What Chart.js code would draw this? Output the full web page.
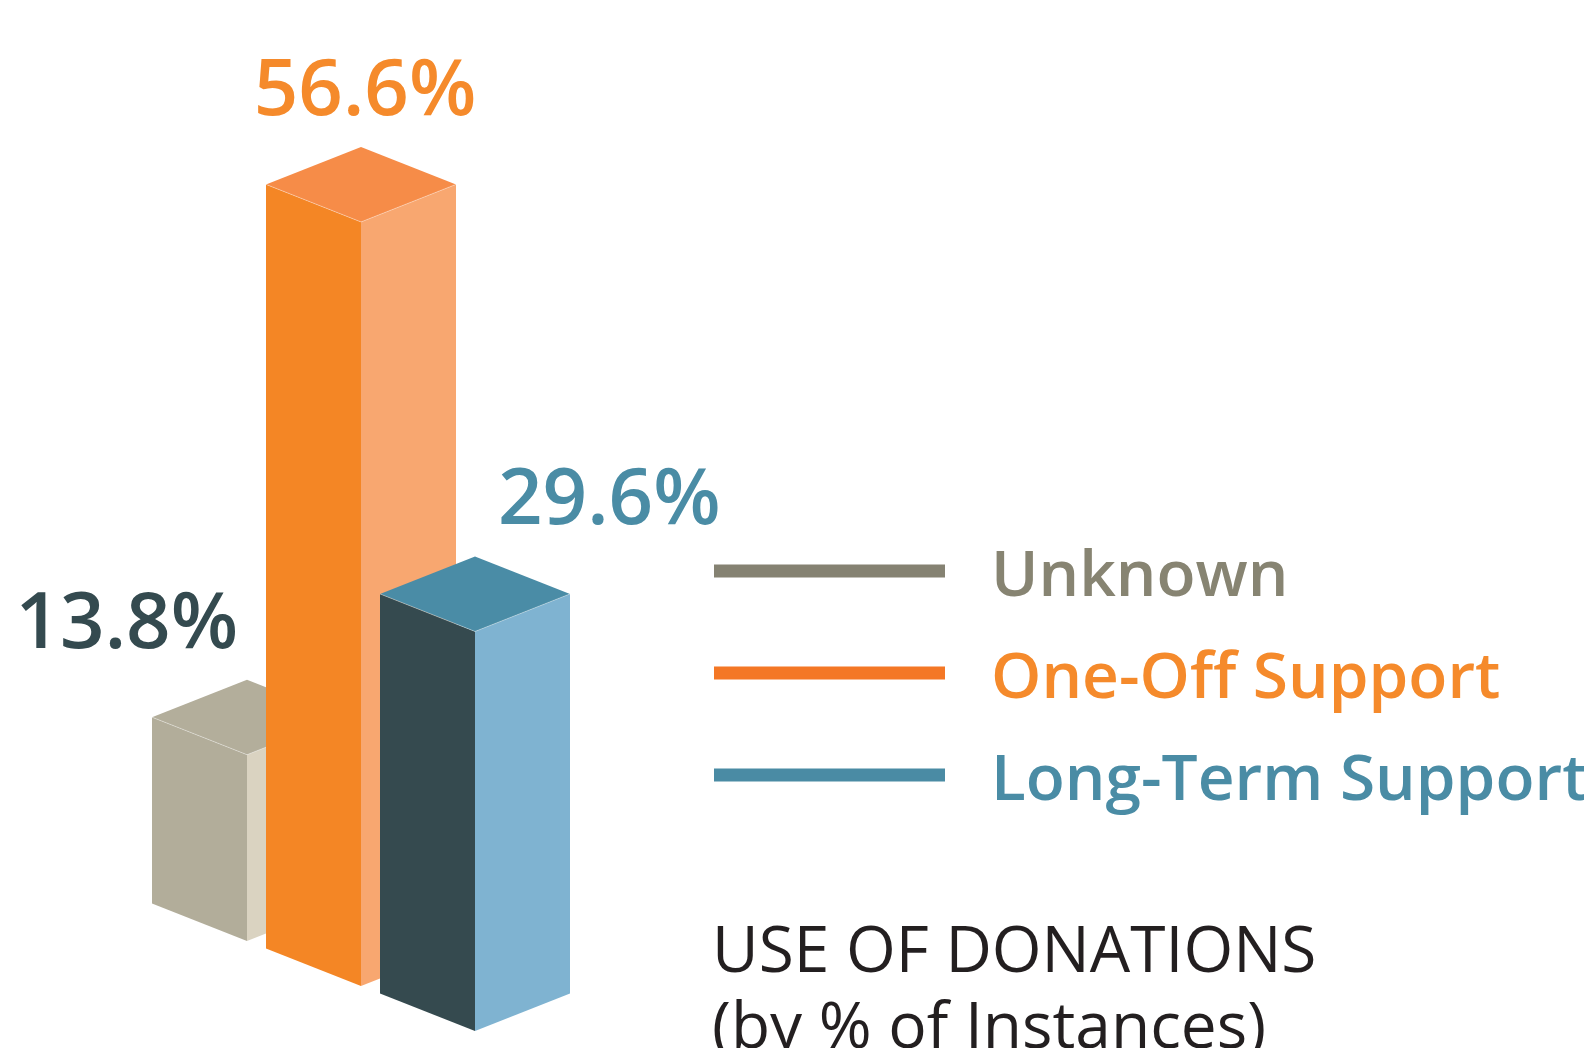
<!DOCTYPE html>
<html>
<head>
<meta charset="utf-8">
<title>Use of Donations</title>
<script src="https://cdn.jsdelivr.net/npm/chart.js@4.4.1/dist/chart.umd.min.js"></script>
<style>
  html, body { margin: 0; padding: 0; background: #fff; }
  #wrap { position: relative; width: 1584px; height: 1048px; overflow: hidden; }
</style>
</head>
<body>
<div id="wrap"><canvas id="donations-chart"></canvas></div>
<script>
// Data
const categories = ['Unknown', 'One-Off Support', 'Long-Term Support'];
const shares = [13.8, 56.6, 29.6];
const valueLabels = ['13.8%', '56.6%', '29.6%'];
const titleLines = ['USE OF DONATIONS', '(by % of Instances)'];

// Colours per bar
const frontColors = ['#b2ad9a', '#f48625', '#354a4f'];
const sideColors = ['#dad3c1', '#f8a770', '#7fb3d1'];
const topColors = ['#b3ae9b', '#f68c48', '#4a8ca6'];
const labelColors = ['#344a4f', '#f58a2b', '#4a8ca5'];
const legendLineColors = ['#858272', '#f47725', '#4a8ba4'];
const legendTextColors = ['#878472', '#f58a2b', '#4a8ca5'];

// Look
const TILT = 0.395;          // slope of the isometric faces
const FONT = '"Open Sans", "DejaVu Sans", sans-serif';
const labelAlign = ['right', 'center', 'left'];
const labelNudge = [-9, 4, 23];

function fillPoly(ctx, pts, color) {
    ctx.beginPath();
    ctx.moveTo(pts[0][0], pts[0][1]);
    for (let i = 1; i < pts.length; i++) ctx.lineTo(pts[i][0], pts[i][1]);
    ctx.closePath();
    ctx.fillStyle = color;
    ctx.fill();
}

// Draws each bar as an isometric prism, stepped back along the floor
const prismPlugin = {
    id: 'prism3d',
    afterDatasetsDraw(chart) {
        const ctx = chart.ctx;
        const bars = chart.getDatasetMeta(0).data;
        const x0 = bars[0].x;
        ctx.save();
        bars.forEach((bar, i) => {
            const { x, y, base, width } = bar.getProps(['x', 'y', 'base', 'width'], true);
            const hw = width / 2;
            const d = hw * TILT;
            const shift = (x - x0) * TILT;
            const top = y + shift;
            const bottom = base + shift;

            fillPoly(ctx, [[x - hw, top - d], [x, top], [x, bottom], [x - hw, bottom - d]], frontColors[i]);
            fillPoly(ctx, [[x, top], [x + hw, top - d], [x + hw, bottom - d], [x, bottom]], sideColors[i]);
            fillPoly(ctx, [[x - hw, top - d], [x, top - 2 * d], [x + hw, top - d], [x, top]], topColors[i]);

            // thin light seam along the front edges of the top
            ctx.strokeStyle = 'rgba(255,255,255,0.35)';
            ctx.lineWidth = 1;
            ctx.beginPath();
            ctx.moveTo(x - hw, top - d);
            ctx.lineTo(x, top);
            ctx.lineTo(x + hw, top - d);
            ctx.stroke();

            // value label
            ctx.font = '600 78px ' + FONT;
            ctx.fillStyle = labelColors[i];
            ctx.textAlign = labelAlign[i];
            ctx.textBaseline = 'alphabetic';
            ctx.fillText(valueLabels[i], x + labelNudge[i], top - 2 * d - 32);
        });
        ctx.restore();
    }
};

// Legend with long line markers, and the title underneath
const sidePlugin = {
    id: 'sideText',
    afterDraw(chart) {
        const ctx = chart.ctx;
        ctx.save();
        categories.forEach((name, i) => {
            const cy = 571 + i * 102;
            ctx.fillStyle = legendLineColors[i];
            ctx.fillRect(714, cy - 6.5, 231, 13);
            ctx.font = '600 64px ' + FONT;
            ctx.fillStyle = legendTextColors[i];
            ctx.textAlign = 'left';
            ctx.textBaseline = 'alphabetic';
            ctx.fillText(name, 991, cy + 25);
        });

        ctx.font = '400 64px ' + FONT;
        ctx.fillStyle = '#231f20';
        titleLines.forEach((line, i) => {
            ctx.fillText(line, 712, 972 + i * 76);
        });
        ctx.restore();
    }
};

const ctx = document.getElementById('donations-chart').getContext('2d');
new Chart(ctx, {
    type: 'bar',
    data: {
        labels: categories,
        datasets: [{
            label: 'Use of donations (%)',
            data: shares,
            backgroundColor: 'rgba(0,0,0,0)',
            borderWidth: 0,
            barThickness: 190
        }]
    },
    options: {
        responsive: true,
        maintainAspectRatio: false,
        animation: false,
        layout: {
            padding: { left: 190, right: 1052, top: 131, bottom: 107 }
        },
        scales: {
            x: { display: false, offset: true },
            y: { display: false, min: 0, max: 60 }
        },
        plugins: {
            legend: { display: false },
            tooltip: { enabled: false }
        }
    },
    plugins: [prismPlugin, sidePlugin]
});
</script>
</body>
</html>
